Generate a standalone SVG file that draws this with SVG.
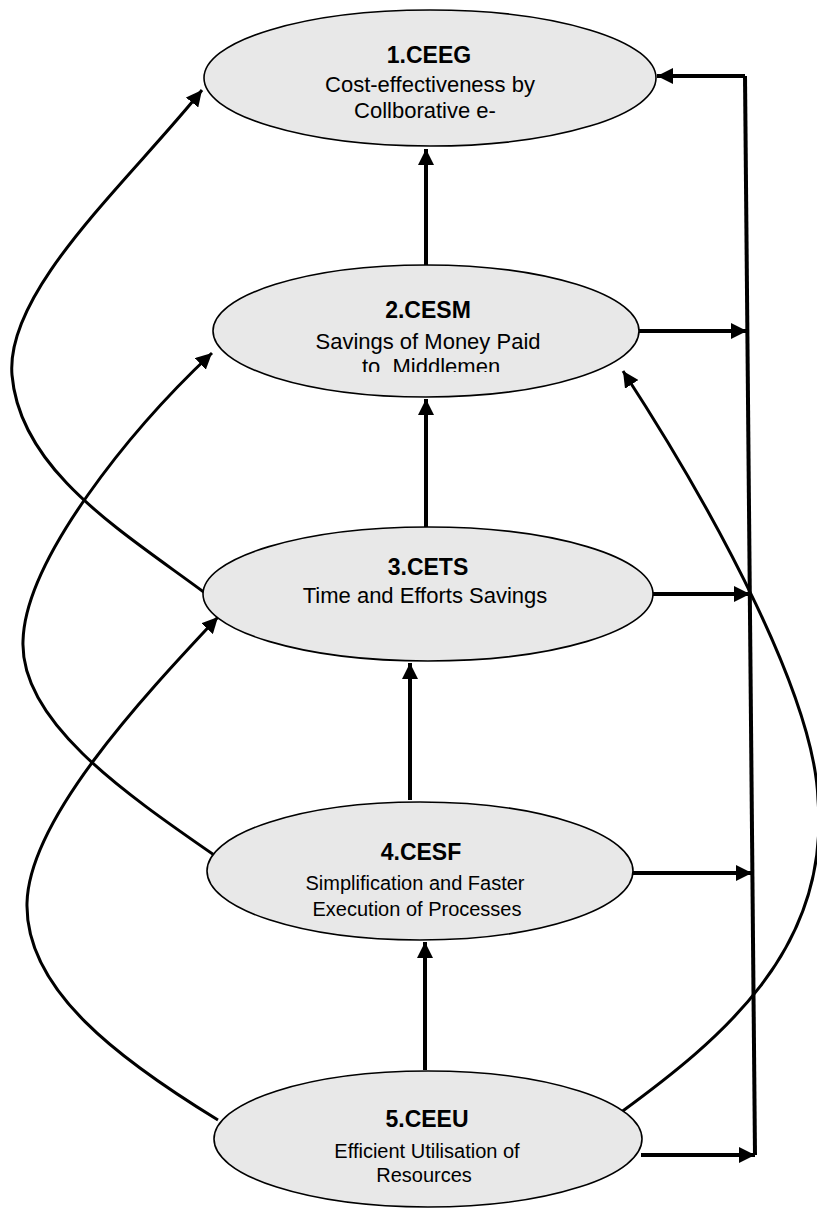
<svg xmlns="http://www.w3.org/2000/svg" width="817" height="1211" viewBox="0 0 817 1211">
<style>
.node ellipse{fill:#e8e8e8;stroke:#000;stroke-width:1.6}
.t{font-family:"Liberation Sans",Arial,sans-serif;font-size:23px;font-weight:bold;fill:#000;text-anchor:middle}
.s{font-family:"Liberation Sans",Arial,sans-serif;font-size:22px;fill:#000;text-anchor:middle}
.s2{font-family:"Liberation Sans",Arial,sans-serif;font-size:20px;fill:#000;text-anchor:middle}
.thick{fill:none;stroke:#000;stroke-width:4}
.curve{fill:none;stroke:#000;stroke-width:3}
</style>
<defs>
<marker id="ah" markerUnits="userSpaceOnUse" markerWidth="18" markerHeight="16" refX="16" refY="8" orient="auto">
<path d="M0,0 L16,8 L0,16 z" fill="#000"/>
</marker>
<clipPath id="clip2"><rect x="200" y="250" width="460" height="122"/></clipPath>
</defs>
<g id="connectors">
<path class="thick" d="M426,265 L426,149" marker-end="url(#ah)"/>
<path class="thick" d="M426,527 L426,399" marker-end="url(#ah)"/>
<path class="thick" d="M410,800 L410,663" marker-end="url(#ah)"/>
<path class="thick" d="M425,1070 L425,942" marker-end="url(#ah)"/>
<path class="thick" d="M745,76 L755,1155"/>
<path class="thick" d="M745,76 L657,76" marker-end="url(#ah)"/>
<path class="thick" d="M639,331 L747,331" marker-end="url(#ah)"/>
<path class="thick" d="M653,594 L750,594" marker-end="url(#ah)"/>
<path class="thick" d="M633,873 L752,873" marker-end="url(#ah)"/>
<path class="thick" d="M641,1155 L755,1155" marker-end="url(#ah)"/>
<path class="curve" d="M205,593 C120,530 20,470 12,375 C5,290 130,180 202,90" marker-end="url(#ah)"/>
<path class="curve" d="M217,857 C120,790 20,720 23,641 C25,560 130,430 212,353" marker-end="url(#ah)"/>
<path class="curve" d="M218,1120 C120,1060 25,990 27,903 C29,820 140,700 218,617" marker-end="url(#ah)"/>
<path class="curve" d="M620,1113 C720,1040 830,950 818,800 C815,700 720,520 623,371" marker-end="url(#ah)"/>
</g>
<g id="n1" class="node">
<ellipse cx="430" cy="78" rx="226" ry="68"/>
<text class="t" x="429" y="63">1.CEEG</text>
<text class="s" x="430" y="92">Cost-effectiveness by</text>
<text class="s" x="425" y="118">Collborative e-</text>
</g>
<g id="n2" class="node">
<ellipse cx="426" cy="331" rx="213" ry="66"/>
<text class="t" x="428" y="318">2.CESM</text>
<text class="s" x="428" y="349">Savings of Money Paid</text>
<text class="s" x="428" y="374" clip-path="url(#clip2)" xml:space="preserve"> to  Middlemen</text>
</g>
<g id="n3" class="node">
<ellipse cx="428" cy="594" rx="225" ry="67"/>
<text class="t" x="428" y="575">3.CETS</text>
<text class="s" x="425" y="603">Time and Efforts Savings</text>
</g>
<g id="n4" class="node">
<ellipse cx="420" cy="871" rx="213" ry="69"/>
<text class="t" x="421" y="860">4.CESF</text>
<text class="s2" x="415" y="890">Simplification and Faster</text>
<text class="s2" x="417" y="916">Execution of Processes</text>
</g>
<g id="n5" class="node">
<ellipse cx="428" cy="1139" rx="214" ry="68"/>
<text class="t" x="427" y="1127">5.CEEU</text>
<text class="s2" x="427" y="1158">Efficient Utilisation of</text>
<text class="s2" x="424" y="1182">Resources</text>
</g>
</svg>
